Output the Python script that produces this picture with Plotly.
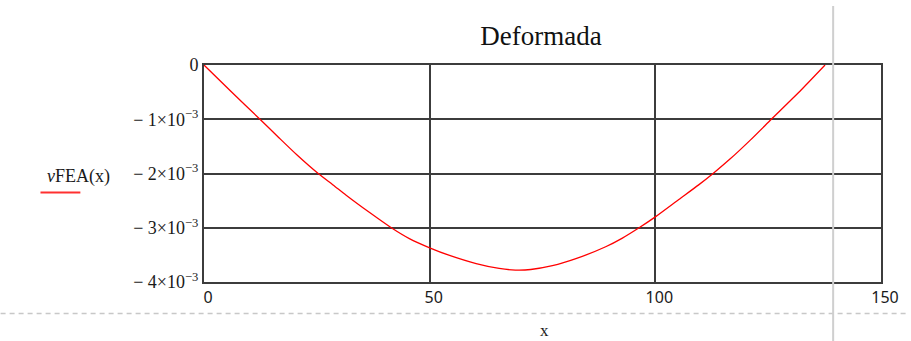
import plotly.graph_objects as go

# Deflection of the beam along its length (FEA result)
x_pos = [0, 6.0, 12.4, 16.6, 20.5, 25.3, 28.6, 31.5, 36.7, 41.5, 45.5, 50, 54.4,
         60.3, 65.4, 69.0, 72.4, 77.2, 82.4, 89.0, 92.7, 96.4, 100, 105.2, 109.6,
         112.8, 116.6, 121.1, 125.7, 132.3, 137.6]
deflection_milli = [0, -0.49, -1.0, -1.34, -1.65, -2.0, -2.21, -2.40, -2.72, -3.0,
                    -3.20, -3.37, -3.51, -3.66, -3.75, -3.78, -3.77, -3.70, -3.57,
                    -3.35, -3.19, -3.0, -2.80, -2.48, -2.21, -2.0, -1.73, -1.38,
                    -1.0, -0.46, 0]
deflection = [v * 1e-3 for v in deflection_milli]

x_ticks = [0, 50, 100, 150]
y_ticks = [0, -1e-3, -2e-3, -3e-3, -4e-3]
y_ticktext = ["0"] + [f"− {k}×10<sup>−3</sup>" for k in (1, 2, 3, 4)]

W, H = 911, 341
L, R, T, B = 204, 28, 65, 59
pw, ph = W - L - R, H - T - B
SERIF = "Liberation Serif, Times New Roman, DejaVu Serif, serif"


def px(x):
    return (x - L) / pw


def py(y):
    return (H - B - y) / ph


fig = go.Figure()
fig.add_trace(go.Scatter(x=x_pos, y=deflection, mode="lines",
                         line=dict(color="#ff0000", width=1.3, shape="spline",
                                   smoothing=0.6),
                         showlegend=False, hoverinfo="skip"))

grid = "#3c3c3c"
fig.update_layout(
    width=W, height=H,
    margin=dict(l=L, r=R, t=T, b=B, pad=0),
    paper_bgcolor="white", plot_bgcolor="white",
    title=dict(text="Deformada", xref="container", x=541 / W, xanchor="center",
               yref="container", y=1 - 36 / H, yanchor="middle",
               font=dict(family=SERIF, size=27, color="#111")),
    xaxis=dict(range=[0, 150], tickvals=x_ticks, ticks="", ticklabelshift=4,
               showgrid=True, gridcolor=grid, gridwidth=2,
               showline=True, linecolor=grid, linewidth=2, mirror=True,
               zeroline=False,
               tickfont=dict(family="Noto Sans", size=16, color="#1a1a1a")),
    yaxis=dict(range=[-4e-3, 0], tickvals=y_ticks, ticktext=y_ticktext, ticks="",
               showgrid=True, gridcolor=grid, gridwidth=2,
               showline=True, linecolor=grid, linewidth=2, mirror=True,
               zeroline=False,
               tickfont=dict(family=SERIF, size=18, color="#1a1a1a")),
)

# axis captions and trace key
fig.add_annotation(text="<i>ν</i>FEA(x)", xref="paper", yref="paper",
                   x=px(78), y=py(176), xanchor="center", yanchor="middle",
                   showarrow=False,
                   font=dict(family=SERIF, size=18, color="#1a1a1a"))
fig.add_shape(type="line", xref="paper", yref="paper",
              x0=px(40), x1=px(80), y0=py(192.5), y1=py(192.5),
              line=dict(color="#ff3030", width=2))
fig.add_annotation(text="x", xref="paper", yref="paper",
                   x=px(546), y=py(330), xanchor="center", yanchor="middle",
                   showarrow=False,
                   font=dict(family=SERIF, size=17, color="#1a1a1a"))

# worksheet region guides
fig.add_shape(type="line", xref="paper", yref="paper",
              x0=px(0), x1=px(W), y0=py(313.5), y1=py(313.5),
              line=dict(color="#c8c8c8", width=1.5, dash="5px,4px"))
fig.add_shape(type="line", xref="paper", yref="paper",
              x0=px(835), x1=px(835), y0=py(6), y1=py(H),
              line=dict(color="#cfcfcf", width=2))

fig.write_html("out.html")
